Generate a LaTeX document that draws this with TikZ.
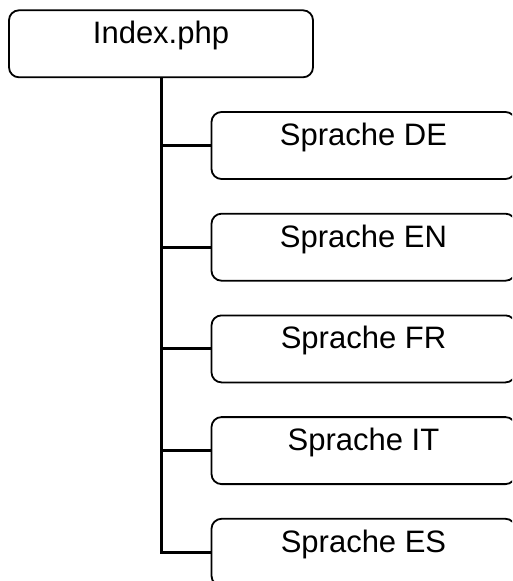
\documentclass[tikz,border=0pt]{standalone}
\usepackage{fontspec}
\setmainfont{Liberation Sans}
\begin{document}
\begin{tikzpicture}[x=1pt,y=-1pt,
  page/.style={draw=black, line width=1.8pt, rounded corners=10pt,
    minimum width=304pt, minimum height=67pt, inner sep=0pt,
    text height=11pt, text depth=11pt,
    font=\fontsize{31}{36}\selectfont},
  link/.style={draw=black, line width=3pt}]
  \useasboundingbox (0,0) rectangle (512,581);
  \clip (0,0) rectangle (512,581);
  % root page
  \node[page] (index) at (161,43.8) {Index.php};
  % language pages
  \node[page] (de) at (363.5,145.5) {Sprache DE};
  \node[page] (en) at (363.5,247.2) {Sprache EN};
  \node[page] (fr) at (363.5,348.9) {Sprache FR};
  \node[page] (it) at (363.5,450.6) {Sprache IT};
  \node[page] (es) at (363.5,552.3) {Sprache ES};
  % tree connectors
  \draw[link] (index.south) -- (index.south |- es.west) -- (es.west);
  \foreach \n in {de,en,fr,it}
    \draw[link] (index.south |- \n.west) -- (\n.west);
\end{tikzpicture}
\end{document}
